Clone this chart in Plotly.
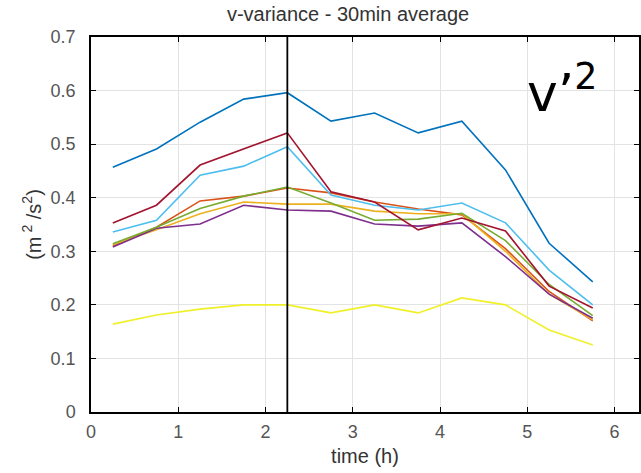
import plotly.graph_objects as go

time_h = [0.25, 0.75, 1.25, 1.75, 2.25, 2.75, 3.25, 3.75, 4.25, 4.75, 5.25, 5.75]

s_blue   = [0.457, 0.491, 0.541, 0.584, 0.596, 0.543, 0.558, 0.521, 0.543, 0.452, 0.315, 0.243]
s_orange = [0.310, 0.345, 0.394, 0.403, 0.418, 0.409, 0.392, 0.379, 0.368, 0.305, 0.225, 0.170]
s_gold   = [0.312, 0.340, 0.370, 0.392, 0.388, 0.388, 0.375, 0.370, 0.370, 0.300, 0.220, 0.172]
s_purple = [0.308, 0.343, 0.351, 0.386, 0.377, 0.375, 0.351, 0.347, 0.353, 0.290, 0.220, 0.175]
s_green  = [0.314, 0.345, 0.380, 0.403, 0.420, 0.390, 0.358, 0.360, 0.371, 0.320, 0.238, 0.180]
s_cyan   = [0.336, 0.358, 0.442, 0.459, 0.495, 0.405, 0.386, 0.377, 0.390, 0.353, 0.265, 0.200]
s_red    = [0.353, 0.386, 0.461, 0.491, 0.521, 0.411, 0.392, 0.340, 0.362, 0.338, 0.235, 0.194]
s_yellow = [0.164, 0.181, 0.192, 0.200, 0.200, 0.185, 0.200, 0.185, 0.213, 0.200, 0.153, 0.125]

series = [
    (s_blue, "rgb(0,114,189)"),
    (s_orange, "rgb(217,83,25)"),
    (s_gold, "rgb(237,177,32)"),
    (s_purple, "rgb(126,47,142)"),
    (s_green, "rgb(119,172,48)"),
    (s_cyan, "rgb(77,190,238)"),
    (s_red, "rgb(162,20,47)"),
    (s_yellow, "rgb(240,240,40)"),
]

marker_time = 2.25
x_ticks = [0, 1, 2, 3, 4, 5, 6]
y_ticks = [0, 0.1, 0.2, 0.3, 0.4, 0.5, 0.6, 0.7]
y_tick_text = ["0", "0.1", "0.2", "0.3", "0.4", "0.5", "0.6", "0.7"]

fig = go.Figure()
for vals, col in series:
    fig.add_trace(go.Scatter(x=time_h, y=vals, mode="lines",
                             line=dict(color=col, width=1.6), showlegend=False))

fig.add_trace(go.Scatter(x=[marker_time, marker_time], y=[0, 0.7], mode="lines",
                         line=dict(color="black", width=1.8), showlegend=False))

font_family = "Liberation Sans, Arial, sans-serif"
fig.update_layout(
    width=641, height=473,
    margin=dict(l=91, r=0, t=37, b=61),
    plot_bgcolor="white", paper_bgcolor="white",
    font=dict(family=font_family, size=18, color="#555"),
    title=dict(text="v-variance - 30min average", xref="container", x=0.543, xanchor="center",
               yref="container", y=0.985, yanchor="top", font=dict(size=20, color="#333")),
    xaxis=dict(range=[0, 6.28], tickvals=x_ticks, showgrid=True, gridcolor="#e3e3e3",
               gridwidth=1, zeroline=False, showline=True, linecolor="black", linewidth=1.5,
               ticks="inside", ticklen=5, tickcolor="black", mirror="ticks",
               ticklabelstandoff=3, tickfont=dict(size=18, color="#555"),
               title=dict(text="time (h)", font=dict(size=20, color="#333"), standoff=8)),
    yaxis=dict(range=[0, 0.7], tickvals=y_ticks, ticktext=y_tick_text, showgrid=True,
               gridcolor="#e3e3e3", gridwidth=1, zeroline=False, showline=True,
               linecolor="black", linewidth=1.5,
               ticks="inside", ticklen=5, tickcolor="black", mirror="ticks",
               ticklabelstandoff=10, tickfont=dict(size=18, color="#555"),
               title=dict(text="(m<sup> 2</sup> /s<sup>2</sup>)", font=dict(size=20, color="#333"),
                          standoff=4)),
    annotations=[dict(text="v’<sup>2</sup>", x=0.86, y=0.765, xref="paper", yref="paper",
                      xanchor="center", yanchor="bottom", showarrow=False,
                      font=dict(family="DejaVu Sans, sans-serif", size=52, color="black"))],
)

fig.write_html("out.html")
